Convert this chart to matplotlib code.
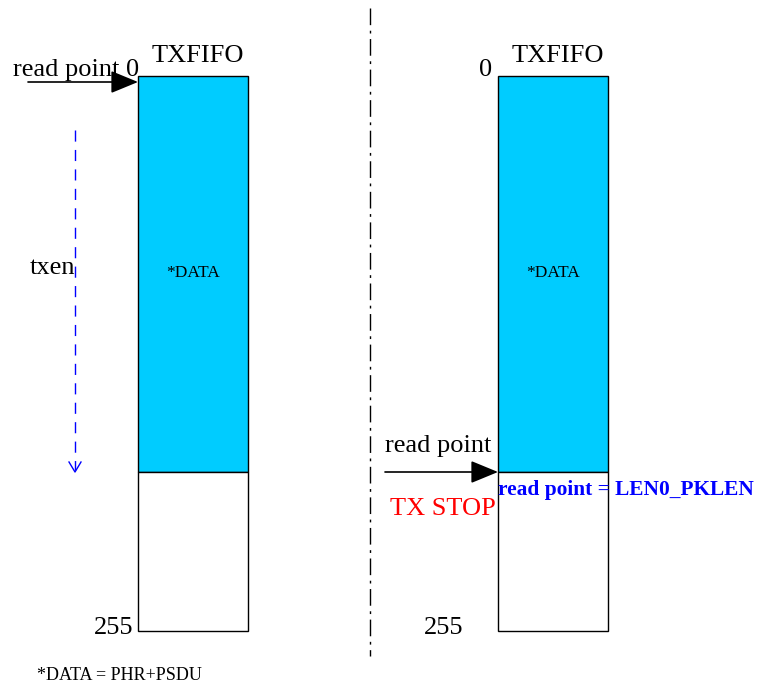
import matplotlib
matplotlib.use("Agg")
import matplotlib.pyplot as plt
from matplotlib.patches import Rectangle, FancyArrowPatch

plt.rcParams['font.family'] = ['Liberation Serif', 'DejaVu Serif']

# Diagram content (pixel layout of a 757x686 canvas)
fifo_titles = ["TXFIFO", "TXFIFO"]
fifo_x = [138, 498]
fifo_top, fifo_bottom, data_bottom = 76, 631, 472
fifo_w = 110
data_label = "*DATA"
top_labels = ["read point 0", "0"]
bottom_label = "255"
cyan = "#00CCFF"

fig = plt.figure(figsize=(7.57, 6.86), dpi=100)
ax = fig.add_axes([0, 0, 1, 1])
ax.set_xlim(0, 757)
ax.set_ylim(686, 0)
ax.axis('off')

for x0, title in zip(fifo_x, fifo_titles):
    ax.add_patch(Rectangle((x0, fifo_top), fifo_w, data_bottom - fifo_top,
                           facecolor=cyan, edgecolor='black', lw=1.0))
    ax.add_patch(Rectangle((x0, data_bottom), fifo_w, fifo_bottom - data_bottom,
                           facecolor='white', edgecolor='black', lw=1.0))
    ax.text(x0 + 60, 56, title, ha='center', va='center', fontsize=19)
    ax.text(x0 + 55, 273, data_label, ha='center', va='center', fontsize=12.5)

arrow_style = '-|>,head_length=17,head_width=7'

# left side
ax.text(13, 70, top_labels[0], ha='left', va='center', fontsize=19)
ax.add_patch(FancyArrowPatch((28, 82), (138, 82), arrowstyle=arrow_style,
                             color='black', lw=1.2, mutation_scale=1, shrinkA=0, shrinkB=0))
ax.text(133, 628, bottom_label, ha='right', va='center', fontsize=19)
ax.text(30, 268, "txen", ha='left', va='center', fontsize=19)
ax.plot([75, 75], [130, 470], color='#0000FF', lw=1.0, ls=(0, (8, 6)))
ax.plot([69, 75, 81], [462, 472, 462], color='#0000FF', lw=1.0)

# divider
ax.plot([370, 370], [8, 656], color='black', lw=1.0, ls=(0, (12, 4, 2, 4)))

# right side
ax.text(492, 70, top_labels[1], ha='right', va='center', fontsize=19)
ax.text(463, 628, bottom_label, ha='right', va='center', fontsize=19)
ax.text(385, 446, "read point", ha='left', va='center', fontsize=19)
ax.add_patch(FancyArrowPatch((385, 472), (498, 472), arrowstyle=arrow_style,
                             color='black', lw=1.2, mutation_scale=1, shrinkA=0, shrinkB=0))
ax.text(390, 509, "TX STOP", ha='left', va='center', fontsize=19, color='#FF0000')
ax.text(498, 490, "read point = LEN0_PKLEN", ha='left', va='center', fontsize=15.4,
        color='#0000FF', fontweight='bold')

ax.text(37, 676, "*DATA = PHR+PSDU", ha='left', va='center', fontsize=13)

fig.savefig("out.png", dpi=100)
